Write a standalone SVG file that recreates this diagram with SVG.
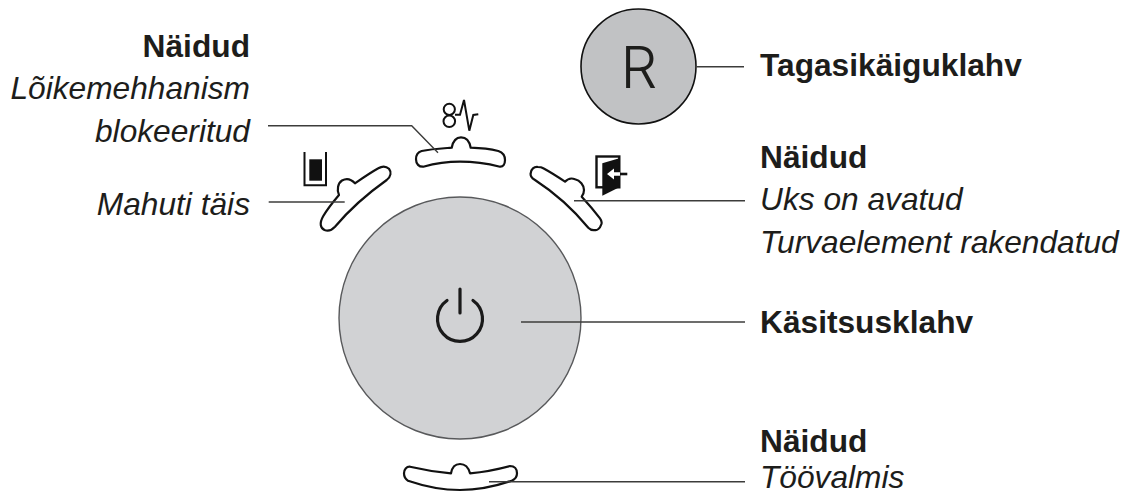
<svg xmlns="http://www.w3.org/2000/svg" width="1129" height="495" viewBox="0 0 1129 495">
<style>
text{font-family:"Liberation Sans",Arial,sans-serif;font-size:31.7px;fill:#1d1d1b}
.b{font-weight:700}
.i{font-style:italic}
.e{text-anchor:end}
.c{fill:none;stroke:#3c3c3b;stroke-width:1.4}
.ind{fill:#fff;stroke:#111;stroke-width:2.2;stroke-linejoin:round}
.ic{fill:none;stroke:#111;stroke-width:2}
</style>
<rect width="1129" height="495" fill="#fff"/>
<g id="button-main">
<circle cx="460" cy="318" r="121" fill="#d1d2d4" stroke="#58595b" stroke-width="1.4"/>
<path d="M447 300.500A22.500 22.500 0 1 0 473 300.500M460 289V313" fill="none" stroke="#1a1a1a" stroke-width="3.200" stroke-linecap="round"/>
</g>
<g id="button-r">
<circle cx="638.500" cy="66.500" r="57.500" fill="#c1c2c4" stroke="#111" stroke-width="1.6"/>
<text x="639" y="88" text-anchor="middle" style="font-family:Inter,'Liberation Sans',sans-serif;font-size:58px;font-weight:300">R</text>
</g>
<g id="led-top">
<path class="ind" d="M451.700 147.700C453 141 456 137.300 461 137.300C466 137.300 469.500 141 470.700 147.700C480 148 490 149 498.300 151C503 152.500 505 156 505 160C505 164.500 503 167 500 166.700C487 163.500 474 161.700 460 161.700C446 161.700 435 163.500 423.300 166.700C419 167 416 164 416 159.300C416 155 418 152 421.700 151C431 149 441 148.500 451.700 147.700Z"/>
<g class="ic"><circle cx="449.300" cy="109.300" r="5.600"/><circle cx="449.300" cy="121.300" r="5.800"/><path d="M455 114.700H460L464 100L469.300 130.700L473.300 115L478.300 114.300"/></g>
</g>
<g id="led-left">
<path class="ind" d="M339 195C336.500 190 338 183 342 180.500C346.500 178 351.500 179.500 355 183.300C362 178.500 370 173 378.300 168.300C382 166 386 166 389 168.800C391.500 172 391 176.500 386.700 180C367 194 350 209 335 226.700C332 230 328.500 231.500 324.500 230C320.500 228 319 223.500 323.300 216C327.500 209 333 202 339 195Z"/>
<g class="ic"><path d="M304.500 152V185.300H326V152"/></g>
<rect x="309.300" y="159.300" width="12.700" height="21.400" fill="#111"/>
</g>
<g id="led-right">
<path class="ind" d="M565 181.700C568 178.500 572 178 575 179.300C580 180.500 584 185 584 190C584 193 583 195 581.700 196.700C588 203.500 594 210.500 600 218.300C602 221 602 224 601 225C600 228.500 597 230.500 595 230C592 230.500 590 229.500 588.300 227.700C572 208 555 193 535 180C531.500 178 530 176 530.700 173.300C531 169 534 166.500 538 167C540 167 542 167.500 543.300 168.300C551 172.500 558 177 565 181.700Z"/>
<rect x="596.500" y="156.500" width="22.800" height="30.800" fill="none" stroke="#111" stroke-width="2.400"/>
<path d="M602.300 163.300L619.300 158.300V187.300L602.300 195.700Z" fill="#111"/>
<path d="M619 172.700H627.300V175.300H619Z" fill="#111"/>
<path d="M607 174L614 168.500V172.300H620V175.700H614V179.500Z" fill="#fff"/>
</g>
<g id="led-bottom">
<path class="ind" d="M451 473.300C452 467.500 455 464 460 464C465 464 468.500 467.500 470 473.300C484 472 497 469.500 510 466C514.500 466 517 469 517 473.300C517 477 515 479.500 511.700 480.700C495 486.500 478 490 460 490C442 490 425 486.500 408 480.700C405 479 404 476 404 473.300C404 469.500 406.500 466.500 410 466.700C424 470 437 472 451 473.300Z"/>
</g>
<g id="connectors">
<path class="c" d="M268 125.700H411.700L438 152.700"/>
<path class="c" d="M268.700 202H344.700"/>
<path class="c" d="M574 200.700H745"/>
<path class="c" d="M696.700 66.700H744"/>
<path class="c" d="M521 322H745"/>
<path class="c" d="M489 481.700H745"/>
</g>
<g id="labels">
<text class="b e" x="250" y="57.300">Näidud</text>
<text class="i e" x="250" y="99.300">Lõikemehhanism</text>
<text class="i e" x="250" y="141.700">blokeeritud</text>
<text class="i e" x="250" y="215">Mahuti täis</text>
<text class="b" x="760" y="76">Tagasikäiguklahv</text>
<text class="b" x="760" y="167.700">Näidud</text>
<text class="i" x="760" y="210">Uks on avatud</text>
<text class="i" x="760" y="252.700">Turvaelement rakendatud</text>
<text class="b" x="760" y="332.700">Käsitsusklahv</text>
<text class="b" x="760" y="452.300">Näidud</text>
<text class="i" x="760" y="488">Töövalmis</text>
</g>
</svg>
